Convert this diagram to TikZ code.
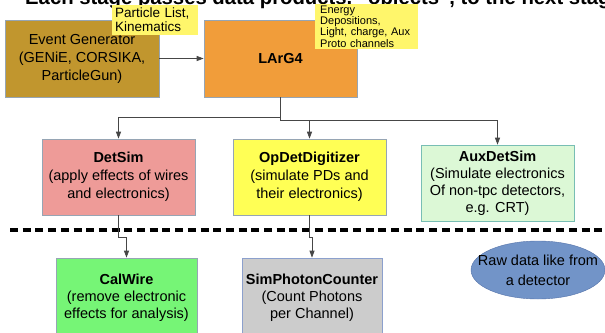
\documentclass[tikz,border=0pt]{standalone}
\usepackage{fontspec}
\setmainfont{Liberation Sans}
\usepackage{tikz}
\usetikzlibrary{arrows.meta, positioning, shapes.geometric}
\definecolor{evGold}{RGB}{193,150,46}
\definecolor{largOrange}{RGB}{241,157,58}
\definecolor{noteYellow}{RGB}{255,246,107}
\definecolor{detPink}{RGB}{238,155,152}
\definecolor{opdetYellow}{RGB}{255,255,85}
\definecolor{auxGreen}{RGB}{220,248,214}
\definecolor{auxLine}{RGB}{120,190,180}
\definecolor{calGreen}{RGB}{118,245,118}
\definecolor{simGray}{RGB}{204,204,204}
\definecolor{simLine}{RGB}{140,160,205}
\definecolor{rawBlue}{RGB}{114,148,200}
\definecolor{rawLine}{RGB}{85,115,170}
\definecolor{boxLine}{RGB}{150,165,180}
\definecolor{flowGray}{RGB}{70,70,70}

\begin{document}
\begin{tikzpicture}[x=1pt, y=-1pt,
    stage/.style={draw=boxLine, line width=0.6pt, minimum width=153pt, minimum height=77pt,
        inner xsep=3pt, align=center, font=\fontsize{14.5}{18}\selectfont},
    note/.style={fill=noteYellow, anchor=north west, align=left, inner xsep=5pt, inner ysep=2pt},
    flow/.style={draw=flowGray, line width=0.8pt, -{Triangle[length=7pt,width=5pt]}}]
    \useasboundingbox (0,0) rectangle (605,332);
    \clip (0,0) rectangle (605,332);

    % heading, cut by the top edge
    \node[anchor=base west, inner sep=0pt, font=\bfseries\fontsize{20.3}{24}\selectfont] (heading) at (25,4.5)
        {Each stage passes data products, ``objects'', to the next stage};

    % generation
    \node[stage, fill=evGold, minimum width=154pt] (evgen) at (82,58.5) {Event Generator\\(GENiE, CORSIKA,\\ParticleGun)};
    \node[stage, fill=largOrange] (larg) at (280.5,58.5) {\textbf{LArG4}};
    \draw[flow] (evgen) -- (larg);

    \node[note, text width=80pt, inner xsep=3pt, inner ysep=3pt, font=\fontsize{13.5}{14}\selectfont] (partnote) at (112,5) {Particle List,\\Kinematics};
    \node[note, text width=93pt, inner ysep=1.5pt, font=\fontsize{11}{9.8}\selectfont] (energynote) at (315,4)
        {Energy\\Depositions,\\Light, charge, Aux\\Proto channels};

    % detector simulation
    \node[stage, fill=detPink, minimum height=76pt] (detsim) at (118.5,177) {\textbf{DetSim}\\(apply effects of wires\\and electronics)};
    \node[stage, fill=opdetYellow, minimum height=76pt] (opdet) at (309.5,177) {\textbf{OpDetDigitizer}\\(simulate PDs and\\their electronics)};
    \node[stage, fill=auxGreen, draw=auxLine, minimum height=76pt, font=\fontsize{14.5}{17}\selectfont] (aux) at (497.5,183)
        {\textbf{AuxDetSim}\\(Simulate electronics\\Of non-tpc detectors,\\e.g. CRT)};

    \draw[flow] (larg.south) -- ++(0,20) -| (detsim.north);
    \draw[flow] (larg.south) -- ++(0,23) -| (opdet.north);
    \draw[flow] (larg.south) -- ++(0,23) -| (aux.north);

    % separator
    \coordinate (sepL) at (10,230);
    \coordinate (sepR) at (605,230);
    \draw[line width=4pt, dash pattern=on 8pt off 4.7pt] (sepL) -- (sepR);

    % reconstruction side
    \node[stage, fill=calGreen, minimum width=141pt, minimum height=80pt, font=\fontsize{14.5}{17}\selectfont] (calwire) at (126.5,298)
        {\textbf{CalWire}\\(remove electronic\\effects for analysis)};
    \node[stage, fill=simGray, draw=simLine, minimum width=140pt, minimum height=80pt, font=\fontsize{14.5}{17}\selectfont] (simpc) at (312,298)
        {\textbf{SimPhotonCounter}\\(Count Photons\\per Channel)};

    \draw[flow] (detsim.south) -- ++(0,22) -| (calwire.north);
    \draw[flow] (opdet.south) -- ++(0,22) -| (simpc.north);

    \node[ellipse, fill=rawBlue, draw=rawLine, minimum width=134pt, minimum height=58pt, inner sep=0pt] (rawdata) at (538,270) {};
    \node[align=center, font=\fontsize{14.5}{20}\selectfont] (rawtext) at (rawdata) {Raw data like from\\a detector};
\end{tikzpicture}
\end{document}
